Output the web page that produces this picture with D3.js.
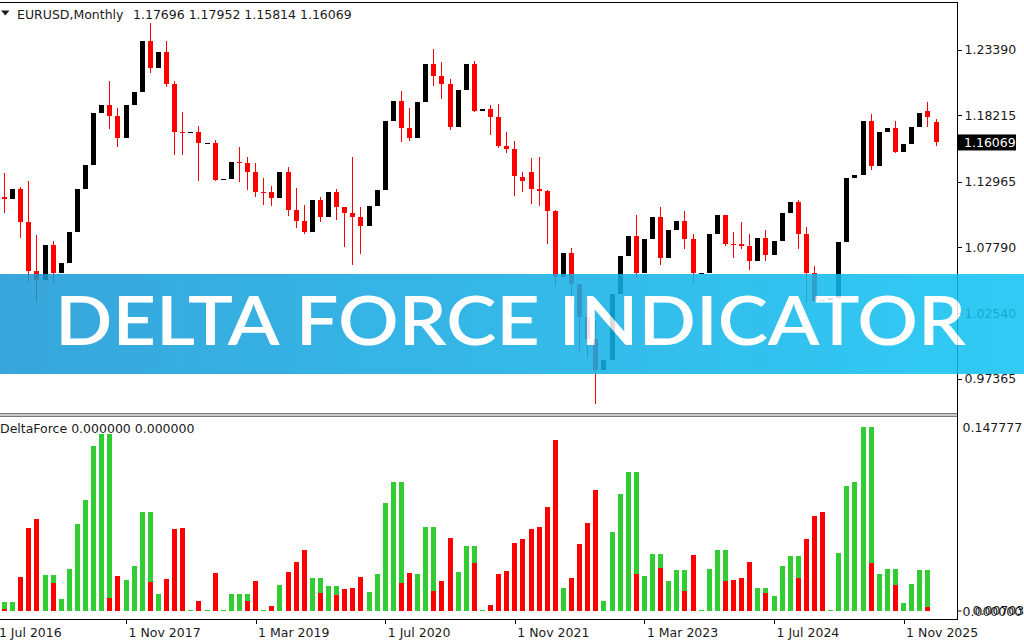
<!DOCTYPE html>
<html>
<head>
<meta charset="utf-8">
<script src="https://cdn.jsdelivr.net/npm/d3@7/dist/d3.min.js"></script>
<style>
    body { margin: 0; background: #fff; }
    svg { display: block; }
</style>
</head>
<body>
<div id="chart"></div>
<script>
//
// data (EURUSD monthly, Aug 2016 .. Mar 2026)
//
const firstMonth = new Date(2016, 7, 1);

const open = [
    1.1172, 1.1157, 1.1240, 1.0978, 1.0588, 1.0517, 1.0797, 1.0575, 1.0652, 1.0895,
    1.1241, 1.1426, 1.1842, 1.1905, 1.1813, 1.1646, 1.1900, 1.2005, 1.2414, 1.2193,
    1.2324, 1.2070, 1.1693, 1.1684, 1.1690, 1.1602, 1.1604, 1.1311, 1.1316, 1.1450,
    1.1442, 1.1372, 1.1216, 1.1215, 1.1169, 1.1370, 1.1075, 1.0985, 1.0899, 1.1151,
    1.1017, 1.1213, 1.1093, 1.1045, 1.1018, 1.0946, 1.1100, 1.1234, 1.1778, 1.1935,
    1.1721, 1.1646, 1.1927, 1.2230, 1.2136, 1.2070, 1.1728, 1.2019, 1.2226, 1.1858,
    1.1870, 1.1809, 1.1580, 1.1559, 1.1336, 1.1371, 1.1235, 1.1219, 1.1067, 1.0545,
    1.0733, 1.0484, 1.0225, 1.0054, 0.9802, 0.9884, 1.0406, 1.0705, 1.0863, 1.0576,
    1.0839, 1.1016, 1.0689, 1.0910, 1.0985, 1.0843, 1.0573, 1.0575, 1.0886, 1.1030,
    1.0805, 1.0800, 1.0790, 1.0668, 1.0848, 1.0713, 1.0825, 1.1047, 1.1135, 1.0882,
    1.0577, 1.0354, 1.0361, 1.0377, 1.0817, 1.1327, 1.1347, 1.1775, 1.1417, 1.1686,
    1.1720, 1.1535, 1.1597, 1.1732, 1.1855, 1.17696
];
const high = [
    1.1366, 1.1327, 1.1258, 1.1300, 1.0874, 1.0829, 1.0829, 1.0906, 1.0951, 1.1268,
    1.1445, 1.1846, 1.2070, 1.2092, 1.1880, 1.1961, 1.2023, 1.2537, 1.2556, 1.2477,
    1.2414, 1.2097, 1.1852, 1.1791, 1.1734, 1.1815, 1.1625, 1.1500, 1.1486, 1.1570,
    1.1489, 1.1448, 1.1324, 1.1264, 1.1412, 1.1412, 1.1249, 1.1109, 1.1179, 1.1176,
    1.1239, 1.1239, 1.1095, 1.1495, 1.1098, 1.1146, 1.1422, 1.1908, 1.1966, 1.2011,
    1.1881, 1.2004, 1.2310, 1.2349, 1.2243, 1.2113, 1.2150, 1.2266, 1.2254, 1.1909,
    1.1900, 1.1909, 1.1692, 1.1616, 1.1375, 1.1482, 1.1495, 1.1233, 1.1076, 1.0787,
    1.0773, 1.0486, 1.0368, 1.0198, 1.0094, 1.0497, 1.0736, 1.0929, 1.1033, 1.1003,
    1.1095, 1.1092, 1.1012, 1.1276, 1.1065, 1.0882, 1.0695, 1.1017, 1.1140, 1.1035,
    1.0898, 1.0981, 1.0885, 1.0895, 1.0916, 1.0948, 1.1202, 1.1214, 1.1153, 1.0937,
    1.0630, 1.0533, 1.0528, 1.0955, 1.1573, 1.1420, 1.1829, 1.1830, 1.1740, 1.1918,
    1.1778, 1.1655, 1.1808, 1.2080, 1.1925, 1.17952
];
const low = [
    1.1046, 1.1122, 1.0851, 1.0506, 1.0341, 1.0340, 1.0493, 1.0494, 1.0569, 1.0839,
    1.1118, 1.1312, 1.1662, 1.1717, 1.1574, 1.1554, 1.1718, 1.1916, 1.2154, 1.2155,
    1.2048, 1.1510, 1.1509, 1.1575, 1.1301, 1.1526, 1.1302, 1.1216, 1.1269, 1.1290,
    1.1234, 1.1176, 1.1110, 1.1107, 1.1160, 1.1028, 1.0926, 1.0879, 1.0879, 1.0981,
    1.0981, 1.0992, 1.0778, 1.0636, 1.0727, 1.0766, 1.1072, 1.1185, 1.1696, 1.1612,
    1.1622, 1.1603, 1.1925, 1.2054, 1.1952, 1.1704, 1.1704, 1.1986, 1.1847, 1.1752,
    1.1664, 1.1563, 1.1524, 1.1186, 1.1217, 1.1121, 1.1106, 1.0806, 1.0471, 1.0349,
    1.0359, 0.9952, 0.9901, 0.9536, 0.9632, 0.9730, 1.0393, 1.0483, 1.0533, 1.0516,
    1.0788, 1.0635, 1.0662, 1.0834, 1.0766, 1.0488, 1.0448, 1.0517, 1.0724, 1.0790,
    1.0695, 1.0767, 1.0601, 1.0649, 1.0668, 1.0709, 1.0778, 1.1001, 1.0761, 1.0332,
    1.0343, 1.0177, 1.0141, 1.0360, 1.0778, 1.1065, 1.1210, 1.1392, 1.1391, 1.1574,
    1.1520, 1.1468, 1.1588, 1.1700, 1.1732, 1.15814
];
const close = [
    1.1157, 1.1238, 1.0978, 1.0588, 1.0517, 1.0797, 1.0575, 1.0652, 1.0895, 1.1241,
    1.1426, 1.1842, 1.1905, 1.1813, 1.1646, 1.1900, 1.2005, 1.2414, 1.2193, 1.2324,
    1.2070, 1.1693, 1.1684, 1.1690, 1.1602, 1.1604, 1.1311, 1.1316, 1.1450, 1.1442,
    1.1372, 1.1216, 1.1215, 1.1169, 1.1370, 1.1075, 1.0985, 1.0899, 1.1151, 1.1017,
    1.1213, 1.1093, 1.1045, 1.1018, 1.0946, 1.1100, 1.1234, 1.1778, 1.1935, 1.1721,
    1.1646, 1.1927, 1.2230, 1.2136, 1.2070, 1.1728, 1.2019, 1.2226, 1.1858, 1.1870,
    1.1809, 1.1580, 1.1559, 1.1338, 1.1302, 1.1235, 1.1219, 1.1067, 1.0545, 1.0733,
    1.0484, 1.0225, 1.0054, 0.9802, 0.9884, 1.0406, 1.0705, 1.0863, 1.0576, 1.0839,
    1.1016, 1.0689, 1.0910, 1.0985, 1.0843, 1.0573, 1.0575, 1.0886, 1.1030, 1.0805,
    1.0800, 1.0790, 1.0668, 1.0848, 1.0713, 1.0825, 1.1047, 1.1135, 1.0882, 1.0577,
    1.0354, 1.0361, 1.0377, 1.0817, 1.1327, 1.1347, 1.1775, 1.1417, 1.1686, 1.1720,
    1.1535, 1.1597, 1.1732, 1.1843, 1.1806, 1.16069
];

// DeltaForce buffers (the red one is drawn over the green one)
const dfGreen = [
    0.0072, 0.0072, 0, 0, 0, 0.0286, 0.0286, 0.0099, 0.0335, 0.0699,
    0.0889, 0.1328, 0.1422, 0.1422, 0, 0.0246, 0.0361, 0.0800, 0.0800, 0.0134,
    0, 0, 0, 0.0008, 0, 0.0008, 0, 0.0008, 0.0134, 0.0134,
    0.0134, 0, 0.0008, 0.0008, 0.0206, 0, 0, 0, 0.0262, 0.0262,
    0.0198, 0.0198, 0, 0, 0, 0.0155, 0.0294, 0.0865, 0.1036, 0.1036,
    0, 0.0294, 0.0677, 0.0677, 0, 0, 0.0311, 0.0522, 0.0522, 0.0008,
    0.0008, 0, 0, 0, 0, 0, 0, 0, 0, 0.0187,
    0, 0, 0, 0, 0.0083, 0.0634, 0.0945, 0.1116, 0.1116, 0.0281,
    0.0458, 0.0458, 0.0238, 0.0327, 0.0327, 0, 0.0008, 0.0335, 0.0490, 0.0490,
    0, 0, 0, 0.0187, 0.0187, 0.0123, 0.0361, 0.0442, 0.0442, 0,
    0, 0, 0.0008, 0.0466, 0.1004, 0.1036, 0.147777, 0.147777, 0.0294, 0.0335,
    0.0335, 0.0067, 0.0214, 0.0327, 0.0327
];
const dfRed = [
    0.0016, 0, 0.0270, 0.0669, 0.0742, 0, 0.0228, 0, 0, 0,
    0, 0, 0, 0.0107, 0.0278, 0, 0, 0, 0.0230, 0,
    0.0254, 0.0661, 0.0669, 0, 0.0083, 0, 0.0303, 0, 0, 0,
    0.0080, 0.0238, 0, 0.0043, 0, 0.0311, 0.0391, 0.0490, 0, 0.0142,
    0, 0.0126, 0.0179, 0.0187, 0.0270, 0, 0, 0, 0, 0.0222,
    0.0303, 0, 0, 0.0163, 0.0238, 0.0589, 0, 0, 0.0385, 0,
    0.0051, 0.0294, 0.0319, 0.0546, 0.0578, 0.0661, 0.0677, 0.0833, 0.1379, 0,
    0.0262, 0.0538, 0.0709, 0.0977, 0, 0, 0, 0, 0.0297, 0,
    0, 0.0345, 0, 0, 0.0163, 0.0450, 0, 0, 0, 0.0238,
    0.0246, 0.0262, 0.0394, 0, 0.0147, 0, 0, 0, 0.0262, 0.0578,
    0.0766, 0.0800, 0, 0, 0, 0, 0, 0.0383, 0, 0,
    0.0206, 0, 0, 0, 0.0032
];

// axis labels
const priceTicks = [1.23390, 1.18215, 1.12965, 1.07790, 1.02540, 0.97365];
const timeTicks = [-1, 15, 31, 47, 63, 79, 95, 111];
const lastPrice = 1.16069;
const headerSymbol = 'EURUSD,Monthly';
const headerValues = '1.17696 1.17952 1.15814 1.16069';
const indLabel = 'DeltaForce 0.000000 0.000000';
const indMax = 0.147777;
const indMinLabel = '0.007037';
const bannerText = 'DELTA FORCE INDICATOR';

const FONT = "'DejaVu Sans', Verdana, sans-serif";
const BEAR = '#ff0000';
const BULL = '#000000';
const GREEN = '#32cd32';

window.onload = function () {
    const width = 1024,
          height = 640,
          axisX = 957;

    const svg = d3.select('#chart').append('svg')
        .attr('width', width)
        .attr('height', height)
        .style('font-family', FONT);

    svg.append('rect')
        .attr('width', width)
        .attr('height', height)
        .attr('fill', '#fff');

    // scales: bar index -> x, price -> y (main), value -> y (sub window)
    const x = d3.scaleLinear()
        .domain([0, open.length - 1])
        .range([4, 935.5]);
    const y = d3.scaleLinear()
        .domain([0.94649, 1.27190])
        .range([413, 2]);
    const yInd = d3.scaleLinear()
        .domain([0, indMax])
        .range([611, 427.3]);

    const px = i => Math.round(x(i));

    svg.append('clipPath').attr('id', 'clip-main')
        .append('rect').attr('x', 0).attr('y', 3).attr('width', axisX).attr('height', 410);

    drawCandles(svg, x, y, px);
    drawHistogram(svg, yInd, px);
    drawFrame(svg, axisX);
    drawAxes(svg, x, y, yInd, axisX);
    drawHeader(svg);
    drawBanner(svg, width);
};

function drawCandles(svg, x, y, px) {
    const candles = open.map((o, i) => ({ i: i, o: o, h: high[i], l: low[i], c: close[i] }));
    const g = svg.append('g')
        .attr('clip-path', 'url(#clip-main)')
        .attr('shape-rendering', 'crispEdges');

    // bullish wicks are white in this colour scheme, so only bears show them
    g.selectAll('line.wick')
        .data(candles.filter(d => d.c < d.o))
        .join('line')
        .attr('class', 'wick')
        .attr('x1', d => px(d.i) + 0.5)
        .attr('x2', d => px(d.i) + 0.5)
        .attr('y1', d => y(d.h))
        .attr('y2', d => y(d.l))
        .attr('stroke', BEAR)
        .attr('stroke-width', 1);

    g.selectAll('rect.body')
        .data(candles)
        .join('rect')
        .attr('class', 'body')
        .attr('x', d => px(d.i) - 2)
        .attr('width', 5)
        .attr('y', d => Math.min(y(d.o), y(d.c)))
        .attr('height', d => Math.max(1, Math.abs(y(d.o) - y(d.c))))
        .attr('fill', d => d.c < d.o ? BEAR : BULL);
}

function drawHistogram(svg, yInd, px) {
    const g = svg.append('g').attr('shape-rendering', 'crispEdges');

    const bars = (arr, color, cls) => {
        g.selectAll('rect.' + cls)
            .data(arr.map((v, i) => ({ i: i, v: v })).filter(d => d.v > 0))
            .join('rect')
            .attr('class', cls)
            .attr('x', d => px(d.i) - 2)
            .attr('width', 5)
            .attr('y', d => yInd(d.v))
            .attr('height', d => Math.max(1, yInd(0) - yInd(d.v)))
            .attr('fill', color);
    };
    bars(dfGreen, GREEN, 'green');
    bars(dfRed, BEAR, 'red');

    svg.append('text')
        .attr('x', 0)
        .attr('y', 433)
        .attr('font-size', 12.5)
        .attr('fill', '#1a1a1a')
        .text(indLabel);
}

function drawFrame(svg, axisX) {
    const g = svg.append('g').attr('shape-rendering', 'crispEdges');

    // top border, right price-axis line, bottom border
    g.append('line').attr('x1', 0).attr('x2', axisX).attr('y1', 2.5).attr('y2', 2.5)
        .attr('stroke', '#000');
    g.append('line').attr('x1', axisX + 0.5).attr('x2', axisX + 0.5).attr('y1', 2).attr('y2', 620)
        .attr('stroke', '#000');
    g.append('line').attr('x1', 0).attr('x2', axisX).attr('y1', 619.5).attr('y2', 619.5)
        .attr('stroke', '#000');

    // sub window splitter
    g.append('rect').attr('x', 0).attr('y', 413).attr('width', axisX).attr('height', 4)
        .attr('fill', '#c8c8c8');
    g.append('line').attr('x1', 0).attr('x2', axisX).attr('y1', 413.5).attr('y2', 413.5)
        .attr('stroke', '#7a7a7a');
    g.append('line').attr('x1', 0).attr('x2', axisX).attr('y1', 416.5).attr('y2', 416.5)
        .attr('stroke', '#7a7a7a');
}

function drawAxes(svg, x, y, yInd, axisX) {
    const fmtMonth = d3.timeFormat('%-d %b %Y');

    // price axis
    const pa = svg.append('g')
        .attr('transform', `translate(${axisX + 0.5}, 0)`)
        .call(d3.axisRight(y)
            .tickValues(priceTicks)
            .tickFormat(d3.format('.5f'))
            .tickSize(4)
            .tickPadding(3));
    pa.select('.domain').remove();
    styleAxis(pa);

    // last price box
    const lp = svg.append('g')
        .attr('transform', `translate(${axisX + 1}, ${y(lastPrice)})`);
    lp.append('rect')
        .attr('x', 0).attr('y', -8)
        .attr('width', 58).attr('height', 16)
        .attr('fill', '#000');
    lp.append('text')
        .attr('x', 6).attr('dy', '0.36em')
        .attr('font-size', 12.5)
        .attr('fill', '#fff')
        .text(d3.format('.5f')(lastPrice));

    // sub window axis
    const ia = svg.append('g')
        .attr('transform', `translate(${axisX + 0.5}, 0)`)
        .call(d3.axisRight(yInd)
            .tickValues([0, indMax])
            .tickFormat(d3.format('.6f'))
            .tickSize(0)
            .tickPadding(5));
    ia.select('.domain').remove();
    styleAxis(ia);
    ia.append('line').attr('x1', 0).attr('x2', 4)
        .attr('y1', yInd(0)).attr('y2', yInd(0)).attr('stroke', '#000');
    ia.append('text')
        .attr('x', 15).attr('y', yInd(0)).attr('dy', '0.32em')
        .attr('font-size', 12.5).attr('fill', '#1a1a1a')
        .text(indMinLabel);

    // time axis
    const ta = svg.append('g')
        .attr('transform', 'translate(0.5, 619.5)')
        .call(d3.axisBottom(x)
            .tickValues(timeTicks)
            .tickFormat(i => fmtMonth(d3.timeMonth.offset(firstMonth, i)))
            .tickSize(4)
            .tickPadding(5));
    ta.select('.domain').remove();
    styleAxis(ta);
    ta.selectAll('text')
        .attr('text-anchor', 'start')
        .attr('dx', 2);
}

function styleAxis(g) {
    g.attr('font-family', FONT).attr('font-size', 12.5);
    g.selectAll('line').attr('stroke', '#000').attr('shape-rendering', 'crispEdges');
    g.selectAll('text').attr('fill', '#1a1a1a');
}

function drawHeader(svg) {
    svg.append('path')
        .attr('d', 'M1,10.5 L9.5,10.5 L5.25,15.5 Z')
        .attr('fill', '#1a1a1a');
    svg.append('text')
        .attr('x', 17).attr('y', 19)
        .attr('font-size', 12.5).attr('fill', '#1a1a1a')
        .text(headerSymbol);
    svg.append('text')
        .attr('x', 133).attr('y', 19)
        .attr('font-size', 12.5).attr('fill', '#1a1a1a')
        .text(headerValues);
}

function drawBanner(svg, width) {
    const grad = svg.append('defs').append('linearGradient')
        .attr('id', 'banner-grad')
        .attr('x1', '0%').attr('x2', '100%');
    grad.append('stop').attr('offset', '0%').attr('stop-color', '#1898d6');
    grad.append('stop').attr('offset', '100%').attr('stop-color', '#0fc3f3');

    const g = svg.append('g').attr('opacity', 0.86);
    g.append('rect')
        .attr('x', 0).attr('y', 274)
        .attr('width', width).attr('height', 100)
        .attr('fill', 'url(#banner-grad)');
    g.append('text')
        .attr('x', 55).attr('y', 345)
        .attr('font-family', "Lato, 'Open Sans', sans-serif")
        .attr('font-weight', 600)
        .attr('font-size', 67)
        .attr('textLength', 911)
        .attr('lengthAdjust', 'spacingAndGlyphs')
        .attr('fill', '#fff')
        .text(bannerText);
}
</script>
</body>
</html>
